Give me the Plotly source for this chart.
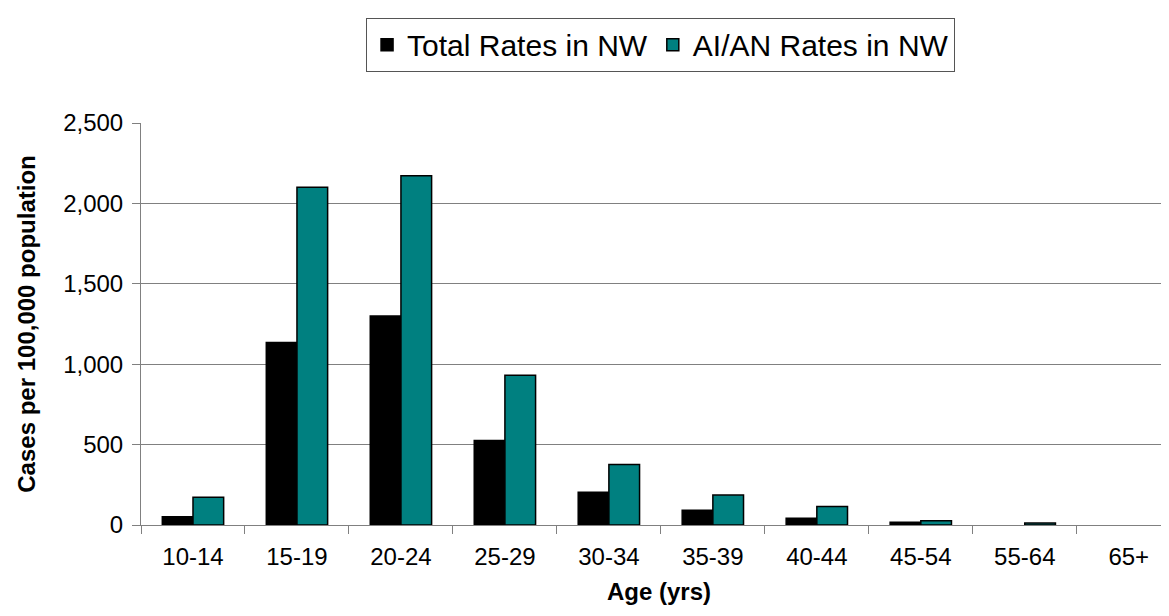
import plotly.graph_objects as go

categories = ["10-14", "15-19", "20-24", "25-29", "30-34", "35-39", "40-44", "45-54", "55-64", "65+"]
# None = no bar drawn (zero rate)
total_rates = [52, 1135, 1299, 525, 203, 91, 42, 17, None, None]
aian_rates = [172, 2101, 2172, 931, 377, 186, 115, 27, 12, None]
y_ticks = [0, 500, 1000, 1500, 2000, 2500]

FONT = "Liberation Sans, Arial, sans-serif"

fig = go.Figure()
fig.add_trace(go.Bar(
    x=categories, y=total_rates, name="Total Rates in NW",
    marker=dict(color="#000000", line=dict(color="#000000", width=1.5)),
))
fig.add_trace(go.Bar(
    x=categories, y=aian_rates, name="AI/AN Rates in NW",
    marker=dict(color="#008080", line=dict(color="#000000", width=1.5)),
))

fig.update_layout(
    width=1169, height=616,
    margin=dict(l=133, r=0, t=115, b=99),
    paper_bgcolor="white", plot_bgcolor="white",
    barmode="group", bargap=0.41, bargroupgap=0,
    font=dict(family=FONT, color="black", size=24),
    showlegend=True,
    legend=dict(
        orientation="h", x=0.5015, xanchor="center", y=1.262, yanchor="top",
        font=dict(family=FONT, size=30, color="black"),
        bordercolor="#555555", borderwidth=1, bgcolor="white",
        itemwidth=30, traceorder="normal",
    ),
    xaxis=dict(
        type="category", range=[-0.5, 9.464],
        showline=True, linecolor="#808080", linewidth=1,
        ticks="outside", tickson="boundaries", ticklen=8, tickcolor="#808080",
        tickfont=dict(family=FONT, size=24, color="black"),
        ticklabelstandoff=10,
        showgrid=False,
        title=dict(text="<b>Age (yrs)</b>", font=dict(family=FONT, size=24, color="black"), standoff=14),
    ),
    yaxis=dict(
        range=[0, 2500], tickvals=y_ticks, tickformat=",",
        showline=True, linecolor="#808080", linewidth=1,
        ticks="outside", ticklen=8, tickcolor="#808080",
        tickfont=dict(family=FONT, size=24, color="black"),
        ticklabelstandoff=4,
        showgrid=True, gridcolor="#808080", gridwidth=1,
        zeroline=False,
        title=dict(text="<b>Cases per 100,000 population</b>", font=dict(family=FONT, size=24, color="black"), standoff=20),
    ),
)

fig.write_html("out.html")
